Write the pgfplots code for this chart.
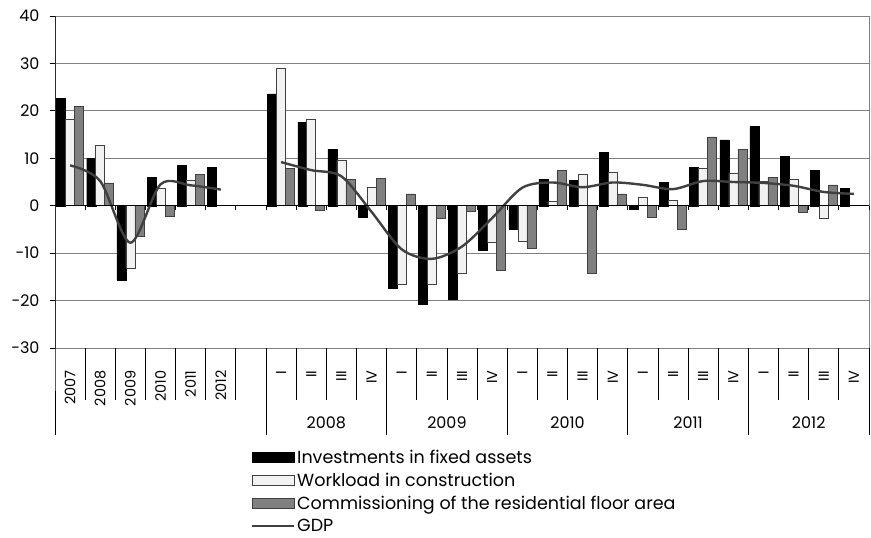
\documentclass[border=0pt]{standalone}
\usepackage{pgfplots}
\pgfplotsset{compat=1.18}
\usepackage{fontspec}
\setmainfont{Poppins}

\definecolor{whitebar}{HTML}{F2F2F2}
\definecolor{graybar}{HTML}{808080}
\definecolor{edge}{HTML}{404040}
\definecolor{gdpline}{HTML}{404040}

\pgfplotsset{
  boxlegend/.style={legend image code/.code={\draw[##1] (0bp,-5bp) rectangle (42bp,5bp);}},
  linelegend/.style={legend image code/.code={\draw[##1, line width=2pt] (0bp,0bp) -- (42bp,0bp);}},
}

% x: 0-5 annual 2007-2012, 6 empty, 7-26 quarters 2008Q1-2012Q4
\pgfplotstableread{
x  inv    work   comm
0  22.7   18.2   21.0
1  10.0   12.8    4.8
2 -15.7  -13.1   -6.4
3   6.0    3.7   -2.3
4   8.5    5.3    6.6
5   8.1    nan    nan
7  23.6   28.9    7.8
8  17.6   18.2   -1.0
9  11.9    9.6    5.5
10 -2.4    3.9    5.8
11 -17.3 -16.6    2.5
12 -20.7 -16.6   -2.6
13 -19.8 -14.3   -1.2
14  -9.4  -7.7  -13.7
15  -4.9  -7.4   -9.0
16   5.6   0.9    7.4
17   5.4   6.6  -14.3
18  11.3   7.1    2.5
19  -0.8   1.8   -2.4
20   5.0   1.2   -4.9
21   8.1   7.8   14.5
22  13.9   6.9   11.9
23  16.7   5.1    6.0
24  10.4   5.6   -1.4
25   7.5  -2.6    4.4
26   3.7   nan    nan
}\bars

\pgfplotstableread{
x gdp
0  8.5
1  5.2
2 -7.8
3  4.5
4  4.3
5  3.4
}\gdpyear

\pgfplotstableread{
x gdp
7   9.2
8   7.5
9   6.2
10 -1.3
11 -9.2
12 -11.2
13 -8.6
14 -2.6
15  3.8
16  4.9
17  3.9
18  4.9
19  4.4
20  3.5
21  5.2
22  5.0
23  4.8
24  4.2
25  2.9
26  2.5
}\gdpquarter

\begin{document}
\begin{tikzpicture}
\begin{axis}[
  scale only axis,
  width=814bp, height=332bp,
  xmin=-0.5, xmax=26.5,
  ymin=-30, ymax=40,
  ytick={-30,-20,...,40},
  ytick pos=left,
  tick align=outside,
  major tick length=5bp,
  ytick style={black, line width=0.8pt},
  /pgf/number format/assume math mode=true,
  yticklabel style={font=\fontsize{16}{18}\selectfont, xshift=-7bp},
  xtick={0,...,26},
  xticklabels={2007,2008,2009,2010,2011,2012,{},
    I,II,III,IV,I,II,III,IV,I,II,III,IV,I,II,III,IV,I,II,III,IV},
  xtick style={draw=none},
  xticklabel style={yshift=-14bp, rotate=90, anchor=east, font=\fontsize{14.5}{16}\selectfont},
  ymajorgrids,
  grid style={draw=gray, line width=0.8pt},
  axis line style={draw=gray, line width=0.8pt},
  clip=false,
  legend style={
    at={(0,0)}, anchor=north west, xshift=196bp, yshift=-102bp,
    draw=none, fill=none,
    font=\fontsize{17.6}{19}\selectfont,
    row sep=8bp, inner sep=0pt,
    nodes={inner xsep=2bp, inner ysep=0pt},
  },
  legend cell align=left,
]
\addplot[ybar, bar width=9bp, bar shift=-9bp, fill=black, draw=black, boxlegend]
  table[x=x, y=inv] {\bars};
\addplot[ybar, bar width=9bp, bar shift=0bp, fill=whitebar, draw=edge, line width=0.6pt, boxlegend]
  table[x=x, y=work] {\bars};
\addplot[ybar, bar width=9bp, bar shift=9bp, fill=graybar, draw=edge, line width=0.6pt, boxlegend]
  table[x=x, y=comm] {\bars};
\addplot[smooth, tension=0.5, draw=gdpline, line width=2.4pt, mark=none, linelegend]
  table[x=x, y=gdp] {\gdpyear};
\addplot[smooth, tension=0.5, draw=gdpline, line width=2.4pt, mark=none, forget plot]
  table[x=x, y=gdp] {\gdpquarter};
\legend{Investments in fixed assets, Workload in construction,
  Commissioning of the residential floor area, GDP}

% zero line with boundary ticks
\draw[black, line width=1pt] (axis cs:-0.5,0) -- (axis cs:26.5,0);
\pgfplotsinvokeforeach{0.5,1.5,...,26.5}{
  \draw[black, line width=0.8pt] (axis cs:#1,0) -- ++(0pt,-4.5bp);
}
% left axis, extended through the category rows
\draw[black, line width=1pt] (axis cs:-0.5,40) -- (axis cs:-0.5,-30) -- ++(0pt,-87bp);
% short separators
\pgfplotsinvokeforeach{0.5,1.5,2.5,3.5,4.5,5.5,7.5,8.5,9.5,11.5,12.5,13.5,15.5,16.5,17.5,19.5,20.5,21.5,23.5,24.5,25.5}{
  \draw[black, line width=0.8pt] (axis cs:#1,-30) -- ++(0pt,-52bp);
}
% long separators
\pgfplotsinvokeforeach{6.5,10.5,14.5,18.5,22.5,26.5}{
  \draw[black, line width=0.8pt] (axis cs:#1,-30) -- ++(0pt,-87bp);
}
% year group labels
\node[font=\fontsize{16}{18}\selectfont, yshift=-75bp] at (axis cs:8.5,-30) {2008};
\node[font=\fontsize{16}{18}\selectfont, yshift=-75bp] at (axis cs:12.5,-30) {2009};
\node[font=\fontsize{16}{18}\selectfont, yshift=-75bp] at (axis cs:16.5,-30) {2010};
\node[font=\fontsize{16}{18}\selectfont, yshift=-75bp] at (axis cs:20.5,-30) {2011};
\node[font=\fontsize{16}{18}\selectfont, yshift=-75bp] at (axis cs:24.5,-30) {2012};
% page extent
\path (rel axis cs:0,1) ++(-55bp,16bp) -- (rel axis cs:1,0) ++(2bp,-190bp);
\end{axis}
\end{tikzpicture}
\end{document}
